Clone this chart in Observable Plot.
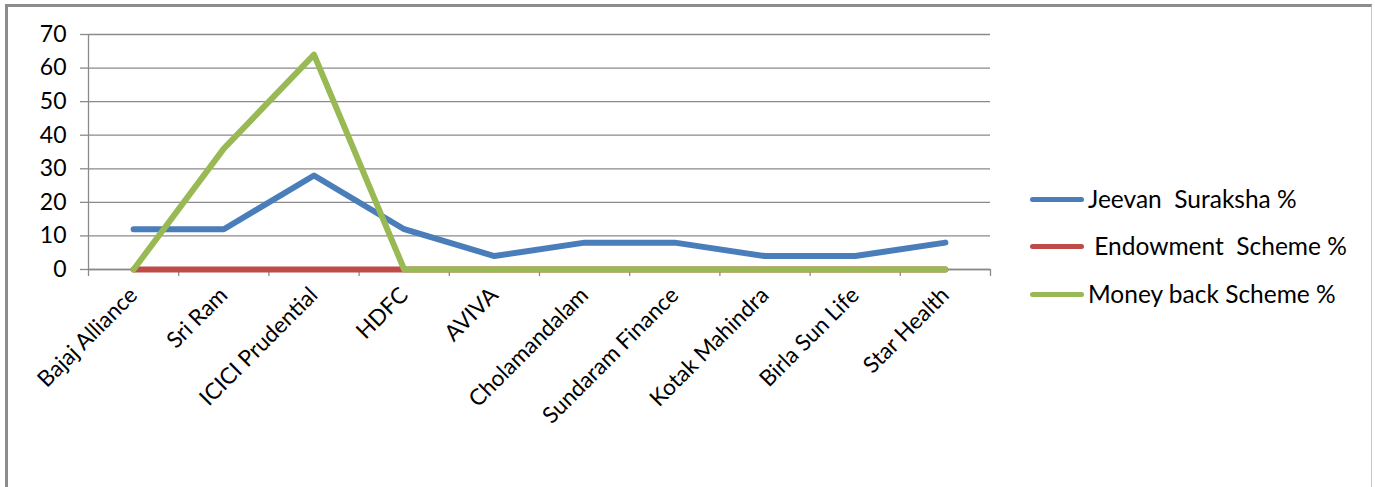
<!DOCTYPE html>
<html>
<head>
<meta charset="utf-8">
<script src="https://cdn.jsdelivr.net/npm/d3@7"></script>
<script src="https://cdn.jsdelivr.net/npm/@observablehq/plot@0.6"></script>
<style>
  html, body { margin: 0; padding: 0; background: #fff; }
  body { width: 1375px; height: 487px; position: relative; overflow: hidden; font-family: Lato, "Open Sans", sans-serif; }
  #frame { position: absolute; left: 5px; top: 4px; width: 1367px; height: 500px;
           border-left: 3px solid #8c8c8c; border-top: 3px solid #8c8c8c; border-right: 1px solid #c8c8c8; box-sizing: border-box; }
  #chart { position: absolute; left: 0; top: 0; }
  #legend { position: absolute; left: 1030px; top: 182px; }
  .item { position: absolute; left: 0; white-space: pre; font-size: 24.5px; color: #000; height: 34px; }
  .swatch { position: absolute; left: 0; width: 54px; height: 5px; border-radius: 3px; }
  .label { position: absolute; left: 58px; top: 0; line-height: 34px; }
</style>
</head>
<body>
<div id="frame"></div>
<div id="chart"></div>
<div id="legend"></div>
<script>
const categories = ["Bajaj Alliance", "Sri Ram", "ICICI Prudential", "HDFC", "AVIVA", "Cholamandalam", "Sundaram Finance", "Kotak Mahindra", "Birla Sun Life", "Star Health"];
const seriesNames = ["Jeevan  Suraksha %", " Endowment  Scheme %", "Money back Scheme %"];
const jeevanSuraksha = [12, 12, 28, 12, 4, 8, 8, 4, 4, 8];
const endowmentScheme = [0, 0, 0, 0, 0, 0, 0, 0, 0, 0];
const moneyBackScheme = [0, 36, 64, 0, 0, 0, 0, 0, 0, 0];
const yTicks = [0, 10, 20, 30, 40, 50, 60, 70];
const colors = ["#4a7ebb", "#be4b48", "#98b954"];

const seriesValues = [jeevanSuraksha, endowmentScheme, moneyBackScheme];
const rows = [];
seriesNames.forEach((s, k) => seriesValues[k].forEach((v, i) => rows.push({series: s, i, value: v})));

const chart = Plot.plot({
  width: 1000,
  height: 480,
  marginLeft: 88,
  marginRight: 10,
  marginTop: 34,
  marginBottom: 211,
  style: { fontFamily: "Lato, 'Open Sans', sans-serif", fontSize: "22px", color: "#000", background: "transparent" },
  x: { domain: [-0.5, categories.length - 0.5] },
  y: { domain: [0, 70] },
  color: { domain: seriesNames, range: colors },
  marks: [
    Plot.gridY(yTicks, { stroke: "#8a8a8a", strokeOpacity: 1, strokeWidth: 1.3 }),
    Plot.axisY(yTicks, { tickSize: 8, tickPadding: 14, stroke: "#8a8a8a", strokeWidth: 1.3, label: null, fontSize: 23 }),
    Plot.axisX(d3.range(-0.5, categories.length), { tickSize: 7, tickFormat: () => "", stroke: "#8a8a8a", strokeWidth: 1.3, label: null }),
    Plot.axisX(d3.range(categories.length), { tickSize: 0, tickPadding: 20, tickRotate: -45, tickFormat: i => categories[i], label: null, fontSize: 22.5, dx: 0, dy: 2 }),
    Plot.ruleX([-0.5], { stroke: "#8a8a8a", strokeWidth: 1.3 }),
    Plot.ruleY([0], { stroke: "#8a8a8a", strokeWidth: 1.3 }),
    Plot.line(rows, { x: "i", y: "value", z: "series", stroke: "series", strokeWidth: 6, strokeLinecap: "round", strokeLinejoin: "round" })
  ]
});
document.getElementById("chart").appendChild(chart);

const legend = document.getElementById("legend");
const tops = [0, 47, 95];
seriesNames.forEach((s, k) => {
  const item = document.createElement("div");
  item.className = "item";
  item.style.top = tops[k] + "px";
  const sw = document.createElement("div");
  sw.className = "swatch";
  sw.style.background = colors[k];
  sw.style.top = "15px";
  const lb = document.createElement("div");
  lb.className = "label";
  lb.textContent = s;
  item.appendChild(sw);
  item.appendChild(lb);
  legend.appendChild(item);
});
</script>
</body>
</html>
